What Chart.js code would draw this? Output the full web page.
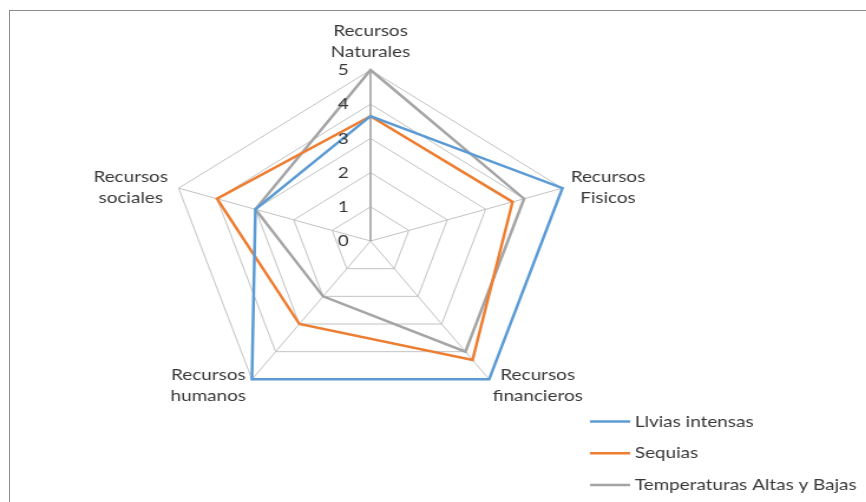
<!DOCTYPE html>
<html>
<head>
<meta charset="utf-8">
<script src="https://cdn.jsdelivr.net/npm/chart.js@4.4.1/dist/chart.umd.min.js"></script>
<style>
  html, body { margin: 0; padding: 0; background: #fff; }
  body { width: 866px; height: 502px; overflow: hidden; position: relative; }
  #frame { position: absolute; left: 9px; top: 10px; right: 0; bottom: 0;
           border-top: 1px solid #8c8c8c; border-left: 1px solid #8c8c8c; }
  /* the original picture is an Excel chart stretched sideways */
  #stretch { position: absolute; left: 0; top: 0; width: 734px; height: 502px;
             transform: scaleX(1.18); transform-origin: 0 0; }
</style>
</head>
<body>
<div id="frame"></div>
<div id="stretch"><canvas id="radar" width="734" height="502"></canvas></div>
<script>
const categories = [
  ["Recursos", "Naturales"],
  ["Recursos", "Fisicos"],
  ["Recursos", "financieros"],
  ["Recursos", "humanos"],
  ["Recursos", "sociales"]
];
const seriesNames = ["Llvias intensas", "Sequias", "Temperaturas Altas y Bajas"];
const lluvias = [3.65, 5, 5, 5, 3];
const sequias = [3.65, 3.7, 4.3, 3, 4];
const temperaturas = [5, 4, 4, 2, 3];
const tickLabels = [0, 1, 2, 3, 4, 5];
const colors = ["#5B9BD5", "#ED7D31", "#A5A5A5"];

const FONT = '16px Lato';
const TEXT = '#383838';

// tick numbers, point labels and legend drawn Excel-style
const excelText = {
  id: 'excelText',
  afterDraw(chart) {
    const ctx = chart.ctx;
    const r = chart.scales.r;
    ctx.save();
    ctx.font = FONT;
    ctx.fillStyle = TEXT;

    ctx.textAlign = 'center';
    ctx.textBaseline = 'middle';
    tickLabels.forEach(v => {
      ctx.fillText(String(v), r.xCenter - 23, r.yCenter - r.getDistanceFromCenterForValue(v));
    });

    ctx.textBaseline = 'alphabetic';
    chart.data.labels.forEach((lines, i) => {
      const p = r.getPointPosition(i, r.drawingArea);
      const w = Math.max(...lines.map(t => ctx.measureText(t).width));
      const c = Math.cos(p.angle), s = Math.sin(p.angle);
      let cx = p.x, base;
      if (s < -0.9) {
        base = p.y - 34;
      } else if (s < 0) {
        base = p.y - 6;
        cx = c > 0 ? p.x + 7 + w / 2 : p.x - 9 - w / 2;
      } else {
        base = p.y + 1;
        cx = c > 0 ? p.x + 3 + w / 2 : p.x - 5 - w / 2;
      }
      lines.forEach((t, k) => ctx.fillText(t, cx, base + k * 20.5));
    });

    ctx.textAlign = 'left';
    ctx.textBaseline = 'middle';
    chart.data.datasets.forEach((ds, i) => {
      const y = 421.5 + i * 31.7;
      ctx.strokeStyle = ds.borderColor;
      ctx.lineWidth = 2.5;
      ctx.beginPath();
      ctx.moveTo(500, y);
      ctx.lineTo(534, y);
      ctx.stroke();
      ctx.fillText(ds.label, 538, y);
    });
    ctx.restore();
  }
};

const series = [lluvias, sequias, temperaturas];

new Chart(document.getElementById('radar'), {
  type: 'radar',
  data: {
    labels: categories,
    datasets: series.map((vals, i) => ({
      label: seriesNames[i],
      data: vals,
      borderColor: colors[i],
      backgroundColor: 'transparent',
      borderWidth: 2.5,
      pointRadius: 0,
      fill: false
    }))
  },
  options: {
    responsive: false,
    animation: false,
    devicePixelRatio: 1,
    layout: { padding: { left: 143, right: 249, top: 70, bottom: 90 } },
    plugins: { legend: { display: false }, tooltip: { enabled: false } },
    scales: {
      r: {
        min: 0,
        max: 5,
        ticks: { stepSize: 1, display: false },
        pointLabels: { display: false },
        grid: { color: '#C2C2C2', lineWidth: 1 },
        angleLines: {
          color: c => c.index === 0 ? '#ABABAB' : '#C2C2C2',
          lineWidth: c => c.index === 0 ? 1.8 : 1
        }
      }
    }
  },
  plugins: [excelText]
});
</script>
</body>
</html>
